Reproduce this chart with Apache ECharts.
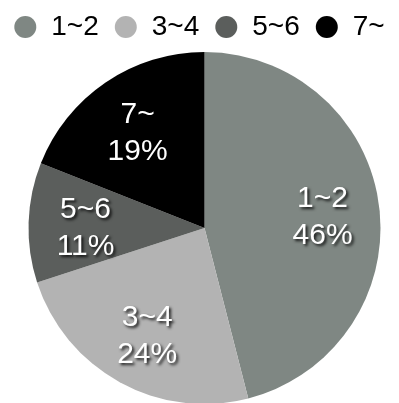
<!DOCTYPE html>
<html>
<head>
<meta charset="utf-8">
<script src="https://cdn.jsdelivr.net/npm/echarts@6/dist/echarts.min.js"></script>
<style>
  html, body { margin: 0; padding: 0; background: #fff; }
  #chart { width: 399px; height: 403px; }
</style>
</head>
<body>
<div id="chart"></div>
<script>
// Age groups and their share (%)
const categories = ['1~2', '3~4', '5~6', '7~'];
const shares = [46, 24, 11, 19];
const colors = ['#7f8783', '#b3b3b3', '#5b5e5c', '#000000'];

const pieData = categories.map((name, i) => ({
  name: name,
  value: shares[i],
  itemStyle: { color: colors[i] }
}));

const chart = echarts.init(document.getElementById('chart'), null, { renderer: 'canvas' });

const center = [204.5, 228];
const outerR = 176;

chart.setOption({
  animation: false,
  legend: {
    top: 8,
    left: 'center',
    icon: 'circle',
    itemWidth: 42,
    itemHeight: 22,
    itemGap: 16,
    textStyle: { fontFamily: 'Liberation Sans', fontSize: 28, color: '#000' },
    data: categories
  },
  series: [
    {
      // slices
      type: 'pie',
      center: center,
      radius: [0, outerR],
      startAngle: 90,
      clockwise: true,
      label: { show: false },
      labelLine: { show: false },
      data: pieData
    },
    {
      // transparent ring used only to place the slice labels
      type: 'pie',
      center: center,
      radius: [56, outerR],
      startAngle: 90,
      clockwise: true,
      silent: true,
      itemStyle: { color: 'rgba(0,0,0,0)' },
      label: {
        show: true,
        position: 'inside',
        offset: [0, 4],
        formatter: p => p.name + '\n' + p.value + '%',
        fontFamily: 'Liberation Sans',
        fontSize: 30,
        lineHeight: 37,
        color: '#fff',
        textShadowColor: 'rgba(0,0,0,0.85)',
        textShadowBlur: 3,
        textShadowOffsetX: 2,
        textShadowOffsetY: 2
      },
      labelLine: { show: false },
      data: categories.map((name, i) => ({ name: name, value: shares[i] }))
    }
  ]
});
</script>
</body>
</html>
